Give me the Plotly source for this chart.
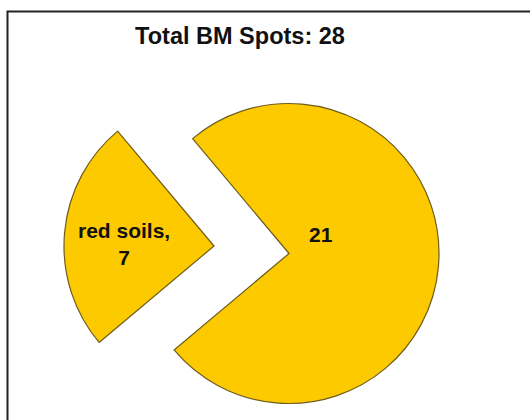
import plotly.graph_objects as go

# Spot counts by soil type
labels = ["red soils", "other soils"]
values = [7, 21]
total = sum(values)

FILL = "#FDCA00"
EDGE = "#6E5C1C"
FONT = "Liberation Sans, Arial, sans-serif"
W, H = 530, 420

# Each wedge is drawn by its own pie trace (the other wedge left transparent)
# so the two pieces can sit apart like an exploded pie.
def wedge(show_idx, cx, cy, r):
    colors = [FILL if i == show_idx else "rgba(0,0,0,0)" for i in range(len(values))]
    widths = [1.2 if i == show_idx else 0 for i in range(len(values))]
    return go.Pie(
        labels=labels,
        values=values,
        sort=False,
        direction="clockwise",
        rotation=230,
        marker=dict(colors=colors, line=dict(color=EDGE, width=widths)),
        textinfo="none",
        hoverinfo="label+value",
        showlegend=False,
        domain=dict(x=[(cx - r) / W, (cx + r) / W], y=[(H - cy - r) / H, (H - cy + r) / H]),
    )

fig = go.Figure()
fig.add_trace(wedge(1, 289, 253.5, 150))
fig.add_trace(wedge(0, 214, 246, 150))

# Data labels placed inside each wedge
label_text = [f"<b>{labels[0]},<br>{values[0]}</b>", f"<b>{values[1]}</b>"]
label_pos = [(124, 244), (321, 234)]
annotations = [
    dict(
        text=t,
        x=px / W,
        y=(H - py) / H,
        xref="paper",
        yref="paper",
        xanchor="center",
        yanchor="middle",
        showarrow=False,
        font=dict(family=FONT, size=21, color="#111111"),
    )
    for t, (px, py) in zip(label_text, label_pos)
]

fig.update_layout(
    width=W,
    height=H,
    margin=dict(l=0, r=0, t=0, b=0),
    paper_bgcolor="white",
    title=dict(
        text=f"<b>Total BM Spots: {total}</b>",
        x=240 / W,
        xanchor="center",
        y=(H - 36) / H,
        yanchor="middle",
        font=dict(family=FONT, size=23.5, color="#111111"),
    ),
    annotations=annotations,
    shapes=[
        dict(
            type="rect",
            xref="paper",
            yref="paper",
            x0=7.5 / W,
            x1=1.05,
            y0=-0.05,
            y1=(H - 11.5) / H,
            line=dict(color="#222222", width=2),
            fillcolor="rgba(0,0,0,0)",
            layer="below",
        )
    ],
)

fig.write_html("out.html")
